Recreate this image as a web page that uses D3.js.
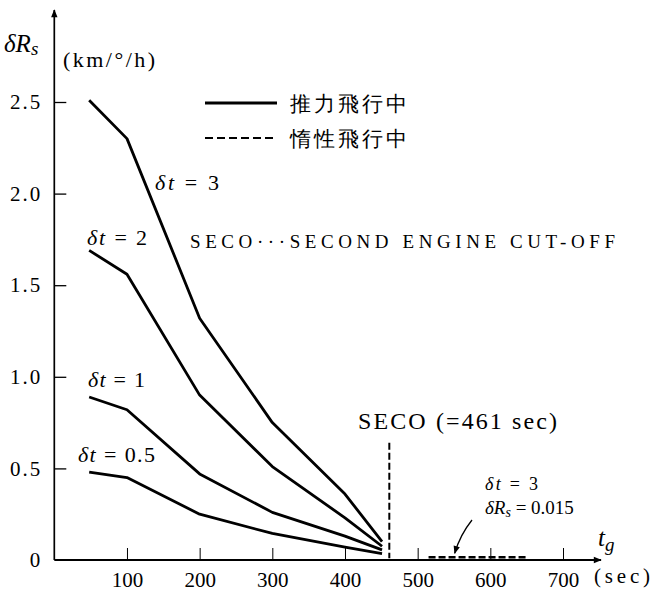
<!DOCTYPE html>
<html>
<head>
<meta charset="utf-8">
<script src="https://cdn.jsdelivr.net/npm/d3@7"></script>
<style>
  body { margin: 0; background: #fff; }
  text { font-family: "Liberation Serif", "DejaVu Serif", serif; fill: #000; }
</style>
</head>
<body>
<div id="chart"></div>
<script>
// sample times (sec) and dRs values for each dt curve
const times = [48, 100, 200, 300, 400, 451];
const dt3 = [2.51, 2.30, 1.32, 0.75, 0.36, 0.10];
const dt2 = [1.69, 1.56, 0.90, 0.51, 0.23, 0.075];
const dt1 = [0.89, 0.82, 0.47, 0.26, 0.13, 0.055];
const dt05 = [0.48, 0.45, 0.25, 0.145, 0.07, 0.035];
// inertial flight segment (dt = 3)
const coastTimes = [515, 650];
const coastValue = 0.015;
const secoTime = 461;
const xTicks = [100, 200, 300, 400, 500, 600, 700];
const yTicks = [0, 0.5, 1.0, 1.5, 2.0, 2.5];
const yTickLabels = ["0", "0.5", "1.0", "1.5", "2.0", "2.5"];

const width = 663, height = 592;
const svg = d3.select("#chart").append("svg")
    .attr("width", width)
    .attr("height", height);

const x = d3.scaleLinear().domain([0, 700]).range([54.3, 563]);
const y = d3.scaleLinear().domain([0, 2.5]).range([560, 102]);

// arrow marker
svg.append("defs").append("marker")
    .attr("id", "arr")
    .attr("viewBox", "0 0 10 10")
    .attr("refX", 9).attr("refY", 5)
    .attr("markerWidth", 10).attr("markerHeight", 8)
    .attr("markerUnits", "userSpaceOnUse")
    .attr("orient", "auto")
    .append("path")
    .attr("d", "M0,1 L10,5 L0,9 Z")
    .attr("fill", "#000");

// axes
svg.append("line")
    .attr("x1", x(0)).attr("y1", y(0))
    .attr("x2", x(0)).attr("y2", 10)
    .attr("stroke", "#000").attr("stroke-width", 1.7)
    .attr("marker-end", "url(#arr)");
svg.append("line")
    .attr("x1", x(0)).attr("y1", y(0))
    .attr("x2", 601).attr("y2", y(0))
    .attr("stroke", "#000").attr("stroke-width", 2)
    .attr("marker-end", "url(#arr)");

const xAxis = svg.append("g")
    .attr("transform", `translate(0,${y(0)})`)
    .call(d3.axisBottom(x).tickValues(xTicks).tickSizeInner(-12).tickSizeOuter(0).tickPadding(12));
xAxis.select(".domain").remove();
xAxis.selectAll("line").attr("stroke-width", 1);
xAxis.selectAll("text").attr("font-size", 21).attr("font-family", "Liberation Serif");

const yAxis = svg.append("g")
    .attr("transform", `translate(${x(0)},0)`)
    .call(d3.axisLeft(y).tickValues(yTicks).tickSizeInner(-12).tickSizeOuter(0).tickPadding(12)
        .tickFormat((d, i) => yTickLabels[i]));
yAxis.select(".domain").remove();
yAxis.selectAll("line").attr("stroke-width", 1.3);
yAxis.selectAll("line").filter(d => d === 0).remove();
yAxis.selectAll("text").attr("font-size", 21).attr("font-family", "Liberation Serif")
    .attr("letter-spacing", 2);

// curves
const line = d3.line().x(d => x(d[0])).y(d => y(d[1]));
[dt3, dt2, dt1, dt05].forEach(vals => {
    svg.append("path")
        .datum(times.map((t, i) => [t, vals[i]]))
        .attr("d", line)
        .attr("fill", "none")
        .attr("stroke", "#000")
        .attr("stroke-width", 2.8)
        .attr("stroke-linejoin", "round");
});

// coast segment
svg.append("path")
    .datum(coastTimes.map(t => [t, coastValue]))
    .attr("d", line)
    .attr("fill", "none")
    .attr("stroke", "#000")
    .attr("stroke-width", 2.4)
    .attr("stroke-dasharray", "7,3");

// SECO line
svg.append("line")
    .attr("x1", x(secoTime)).attr("x2", x(secoTime))
    .attr("y1", y(0.64)).attr("y2", y(0.01))
    .attr("stroke", "#000").attr("stroke-width", 2)
    .attr("stroke-dasharray", "7,3");

// axis titles
const yt = svg.append("text").attr("x", 4).attr("y", 52).attr("font-size", 25).attr("font-style", "italic");
yt.append("tspan").text("δR");
yt.append("tspan").attr("font-size", 19).attr("dy", 3).text("s");
svg.append("text").attr("x", 63).attr("y", 67).attr("font-size", 22)
    .attr("textLength", 92).attr("lengthAdjust", "spacing").text("(km/°/h)");

const tg = svg.append("text").attr("x", 598).attr("y", 546).attr("font-size", 25).attr("font-style", "italic");
tg.append("tspan").text("t");
tg.append("tspan").attr("font-size", 19).attr("dy", 5).text("g");
svg.append("text").attr("x", 594).attr("y", 583).attr("font-size", 21)
    .attr("textLength", 56).attr("lengthAdjust", "spacing").text("(sec)");

// legend
svg.append("line").attr("x1", 205).attr("x2", 277).attr("y1", 103).attr("y2", 103)
    .attr("stroke", "#000").attr("stroke-width", 2.8);
svg.append("line").attr("x1", 205).attr("x2", 277).attr("y1", 138).attr("y2", 138)
    .attr("stroke", "#000").attr("stroke-width", 2.2).attr("stroke-dasharray", "8,4");
svg.append("text").attr("x", 290).attr("y", 111).attr("font-size", 21)
    .attr("font-family", "Noto Sans CJK JP").attr("letter-spacing", 3).text("推力飛行中");
svg.append("text").attr("x", 290).attr("y", 146).attr("font-size", 21)
    .attr("font-family", "Noto Sans CJK JP").attr("letter-spacing", 3).text("惰性飛行中");

// notes
svg.append("text").attr("x", 190).attr("y", 248).attr("font-size", 19)
    .attr("textLength", 425).attr("lengthAdjust", "spacing")
    .text("SECO···SECOND ENGINE CUT-OFF");
svg.append("text").attr("x", 358).attr("y", 429).attr("font-size", 24)
    .attr("textLength", 199).attr("lengthAdjust", "spacing")
    .text("SECO (=461 sec)");

// curve labels
function dtLabel(px, py, val, size, len) {
    const t = svg.append("text").attr("x", px).attr("y", py).attr("font-size", size)
        .attr("textLength", len).attr("lengthAdjust", "spacing");
    t.append("tspan").attr("font-style", "italic").text("δt");
    t.append("tspan").text(" = " + val);
}
dtLabel(155, 190, "3", 22, 64);
dtLabel(87, 245, "2", 22, 60);
dtLabel(88, 387, "1", 22, 57);
dtLabel(78, 462, "0.5", 22, 77);
dtLabel(485, 490, "3", 18, 53);
const rs = svg.append("text").attr("x", 485).attr("y", 514).attr("font-size", 19);
rs.append("tspan").attr("font-style", "italic").text("δR");
rs.append("tspan").attr("font-style", "italic").attr("font-size", 14).attr("dy", 3).text("s");
rs.append("tspan").attr("dy", -3).text(" = 0.015");

// pointer to coast segment
svg.append("path")
    .attr("d", `M${472},${520} Q${460},${535} ${x(551)},${y(coastValue) - 4}`)
    .attr("fill", "none").attr("stroke", "#000").attr("stroke-width", 1.3)
    .attr("marker-end", "url(#arr)");
</script>
</body>
</html>
